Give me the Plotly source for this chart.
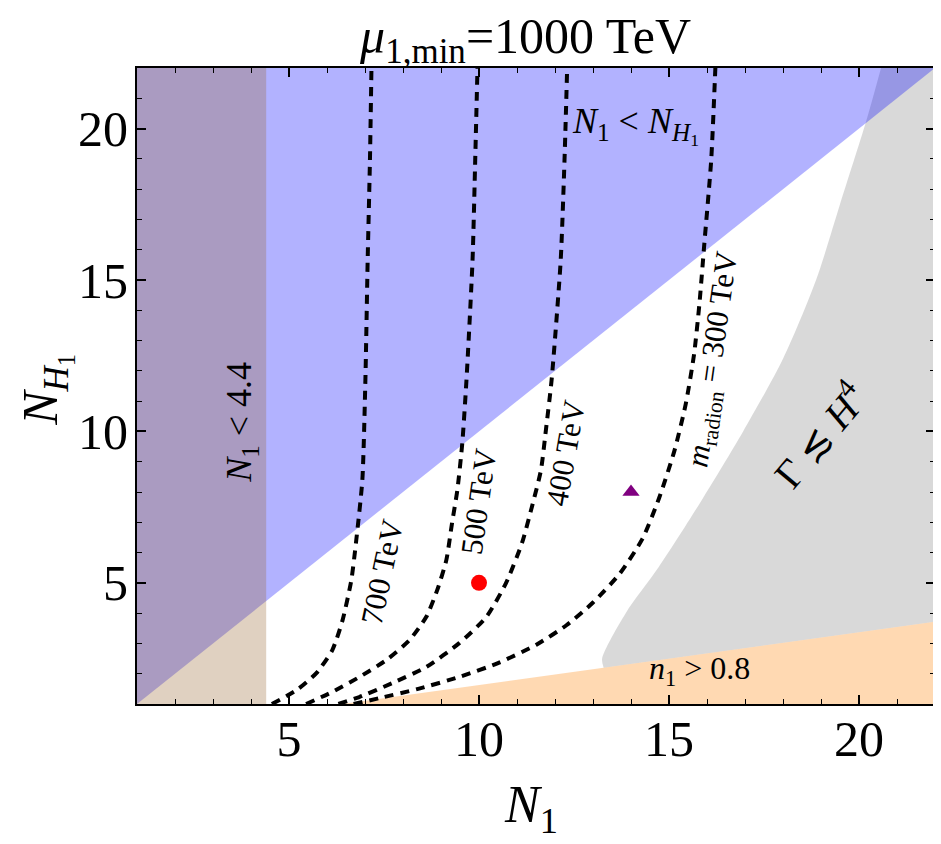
import plotly.graph_objects as go

# axis limits
N1_MIN, N1_MAX = 1.0, 22.0
NH_MIN, NH_MAX = 1.0, 22.0
N1_CUT = 4.4

# Gamma <~ H^4 boundary (left edge of grey region)
GAMMA_N1 = [13.28, 13.24, 13.86, 14.73, 15.86, 16.95, 18.0, 18.87, 19.5, 20.19, 20.58]
GAMMA_NH1 = [2.2, 2.5, 4.0, 5.52, 7.73, 10.0, 12.4, 15.0, 17.5, 20.25, 22.0]

# n1 > 0.8 boundary
ORANGE_N1 = [6.4, 22.0]
ORANGE_NH1 = [1.0, 3.72]

# radion mass contours
M700_N1 = [4.55, 5.20, 5.72, 6.14, 6.41, 6.64, 6.77, 6.93, 7.01, 7.07, 7.13, 7.17]
M700_NH1 = [1.0, 1.46, 2.02, 2.78, 3.77, 5.09, 6.41, 8.39, 11.69, 15.65, 18.95, 22.0]

M500_N1 = [5.45, 6.14, 6.85, 7.56, 8.17, 8.61, 8.90, 9.14, 9.29, 9.43, 9.56, 9.67, 9.83, 9.90, 9.96]
M500_NH1 = [1.0, 1.40, 1.89, 2.45, 3.11, 3.87, 4.76, 5.75, 6.97, 8.06, 9.61, 11.69, 15.65, 18.95, 22.0]

M400_N1 = [6.3, 6.85, 7.72, 8.61, 9.48, 10.19, 10.71, 11.13, 11.39, 11.63, 11.76, 11.91, 12.15, 12.25, 12.32]
M400_NH1 = [1.0, 1.23, 1.69, 2.22, 3.01, 3.87, 4.99, 6.31, 7.5, 8.72, 10.04, 11.69, 15.65, 18.95, 22.0]

M300_N1 = [6.7, 7.4, 8.4, 9.5, 10.5, 11.5, 12.3, 13.0, 13.7, 14.3, 14.74, 15.14, 15.44,
           15.66, 15.8, 15.93, 16.11, 16.22]
M300_NH1 = [1.0, 1.2, 1.5, 1.9, 2.35, 2.95, 3.6, 4.35, 5.3, 6.45, 7.8, 9.35, 10.9,
            12.55, 14.21, 16.2, 18.95, 22.0]

# benchmark points
RED_PT = (10, 5)
PURPLE_PT = (14, 8)

SERIF = "Liberation Serif, Times New Roman, serif"


def region(x, y, color, **kw):
    return go.Scatter(x=x, y=y, fill=kw.pop('fill', 'toself'), fillcolor=color, mode='lines',
                      line=dict(width=0, **kw), hoverinfo='skip', showlegend=False)


def contour(x, y):
    return go.Scatter(x=x, y=y, mode='lines', showlegend=False, hoverinfo='skip',
                      line=dict(color='black', width=4, dash='9px,7px',
                                shape='spline', smoothing=0.6))


fig = go.Figure()

# grey: Gamma <~ H^4 (right edge, then smooth boundary filled towards it)
fig.add_trace(go.Scatter(x=[N1_MAX, N1_MAX], y=[ORANGE_NH1[-1], NH_MAX], mode='lines',
                         line=dict(width=0), hoverinfo='skip', showlegend=False))
fig.add_trace(region(GAMMA_N1, GAMMA_NH1, 'rgba(128,128,128,0.3)',
                     fill='tonextx', shape='spline', smoothing=0.8))
# orange: n1 > 0.8
fig.add_trace(region(ORANGE_N1 + [N1_MAX], ORANGE_NH1 + [NH_MIN],
                     'rgba(255,128,0,0.3)'))
# blue: N1 < NH1
fig.add_trace(region([N1_MIN, N1_MAX, N1_MIN], [NH_MIN, NH_MAX, NH_MAX],
                     'rgba(0,0,255,0.3)'))
# brown: N1 < 4.4
fig.add_trace(region([N1_MIN, N1_CUT, N1_CUT, N1_MIN], [NH_MIN, NH_MIN, NH_MAX, NH_MAX],
                     'rgba(153,102,51,0.3)'))

for cx, cy in [(M700_N1, M700_NH1), (M500_N1, M500_NH1),
               (M400_N1, M400_NH1), (M300_N1, M300_NH1)]:
    fig.add_trace(contour(cx, cy))

fig.add_trace(go.Scatter(x=[RED_PT[0]], y=[RED_PT[1]], mode='markers', showlegend=False,
                         marker=dict(color='red', size=16, symbol='circle')))
fig.add_trace(go.Scatter(x=[PURPLE_PT[0]], y=[PURPLE_PT[1]], mode='markers', showlegend=False,
                         marker=dict(color='purple', size=15, symbol='triangle-up')))

labels = [
    (3.75, 10.3, "<i>N</i><sub>1</sub> &lt; 4.4", -90, 36),
    (14.12, 20.1, "<i>N</i><sub>1</sub> &lt; <i>N</i><sub><i>H</i><sub>1</sub></sub>", 0, 36),
    (18.95, 9.9, "Γ ≲ <i>H</i><sup>4</sup>", -50, 40),
    (15.8, 2.1, "<i>n</i><sub>1</sub> &gt; 0.8", 0, 32),
    (7.46, 5.36, "700 TeV", -78, 31),
    (10.0, 7.67, "500 TeV", -82, 31),
    (12.27, 9.28, "400 TeV", -80, 31),
    (16.19, 12.39, "<i>m</i><sub>radion</sub> = 300 TeV", -82, 31),
]
for lx, ly, txt, ang, fs in labels:
    fig.add_annotation(x=lx, y=ly, text=txt, textangle=ang, showarrow=False,
                       font=dict(family=SERIF, size=fs, color='black'))

# axis titles
fig.add_annotation(xref='paper', yref='paper', x=0.494, y=-0.165, showarrow=False,
                   xanchor='center', yanchor='middle',
                   text="<i>N</i><sub>1</sub>", font=dict(family=SERIF, size=52, color='black'))
fig.add_annotation(xref='paper', yref='paper', x=-0.114, y=0.494, showarrow=False, textangle=-90,
                   xanchor='center', yanchor='middle',
                   text="<i>N</i><sub><i>H</i><sub>1</sub></sub>",
                   font=dict(family=SERIF, size=50, color='black'))

axis_common = dict(
    showgrid=False, zeroline=False, showline=True, linecolor='black', linewidth=2,
    mirror='allticks', ticks='inside', ticklen=9, tickwidth=1.5, tickcolor='black',
    tick0=0, dtick=5,
    minor=dict(ticks='inside', dtick=1, tick0=0, ticklen=5, tickwidth=1.2, tickcolor='black'),
    tickfont=dict(family=SERIF, size=50, color='black'),
)

fig.update_layout(
    width=941, height=844,
    margin=dict(l=129, r=12, t=60, b=148),
    plot_bgcolor='white', paper_bgcolor='white',
    title=dict(text="<i>μ</i><sub>1,min</sub>=1000 TeV", x=0.55, xanchor='center',
               y=0.968, yanchor='middle', yref='container',
               font=dict(family=SERIF, size=50, color='black')),
    xaxis=dict(range=[N1_MIN, N1_MAX], ticklabelstandoff=-10, **axis_common),
    yaxis=dict(range=[NH_MIN, NH_MAX], ticklabelstandoff=-3, **axis_common),
)

fig.write_html("out.html")
